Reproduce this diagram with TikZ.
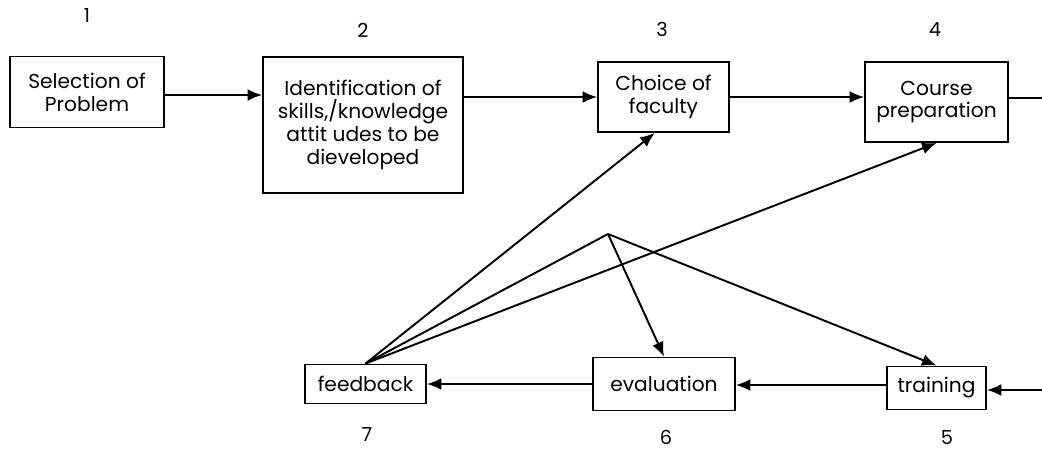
\documentclass[tikz,border=0pt]{standalone}
\usepackage{fontspec}
\setmainfont{Poppins}
\usepackage{tikz}
\usetikzlibrary{arrows.meta,positioning}

\begin{document}
\begin{tikzpicture}[x=0.02cm,y=-0.02cm,
  box/.style={draw,line width=1.1pt,align=center,inner sep=2pt,font=\fontsize{11.5}{13}\selectfont},
  num/.style={font=\fontsize{11}{12}\selectfont},
  arrow/.style={-{Latex[length=2.9mm,width=2.4mm]},line width=1.1pt},
  wire/.style={line width=1.1pt}]
\useasboundingbox (0,0) rectangle (1042,450);
\node[box,minimum width=3.08cm,minimum height=1.42cm] (select) at (87,92) {Selection of\\Problem};
\node[box,minimum width=4.0cm,minimum height=2.72cm] (ident) at (363,125) {Identification of\\skills,/knowledge\\attit udes to be\\dieveloped};
\node[box,minimum width=2.62cm,minimum height=1.4cm] (choice) at (663.5,97) {Choice of\\faculty};
\node[box,minimum width=2.86cm,minimum height=1.6cm] (course) at (936.5,102) {Course\\preparation};
\node[box,minimum width=2.42cm,minimum height=0.78cm] (feed) at (365.5,384) {feedback};
\node[box,minimum width=2.84cm,minimum height=1.06cm] (eval) at (664,384) {evaluation};
\node[box,minimum width=1.98cm,minimum height=0.86cm] (train) at (936.5,388) {training};
\node[num] (n1) at (87,16) {1};
\node[num] (n2) at (363,30) {2};
\node[num] (n3) at (662,29) {3};
\node[num] (n4) at (935,30) {4};
\node[num] (n5) at (947,438) {5};
\node[num] (n6) at (666,437) {6};
\node[num] (n7) at (367,435) {7};
\coordinate (hub) at (608,234);
\coordinate (outR) at (1042,98);
\coordinate (inR) at (1042,390);
\draw[arrow] (select.east |- 0,95)--(ident.west |- 0,95); \draw[arrow] (ident.east |- choice)--(choice);
\draw[arrow] (choice)--(choice -| course.west); \draw[wire] (course.east |- outR)--(outR);
\draw[arrow] (inR)--(train.east |- inR); \draw[arrow] (train.west |- 0,385)--(eval.east |- 0,385);
\draw[arrow] (eval.west)--(eval.west -| feed.east);
\draw[arrow] (feed.north)--([xshift=-5]choice.south); \draw[arrow] (feed.north)--(course.south);
\draw[wire] (feed.north)--(hub); \draw[arrow] (hub)--(eval.north); \draw[arrow] (hub)--(train.north);
\end{tikzpicture}
\end{document}
